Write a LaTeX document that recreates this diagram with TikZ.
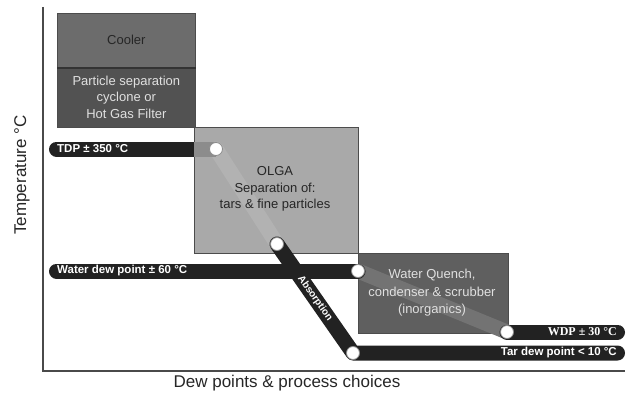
\documentclass[tikz,border=0pt]{standalone}
\usepackage{fontspec}
\setmainfont{Liberation Sans}
\newfontfamily\serifbold{Liberation Serif}
\definecolor{barc}{HTML}{222222}
\definecolor{coolc}{HTML}{6C6C6C}
\definecolor{partc}{HTML}{525252}
\definecolor{olgac}{HTML}{A9A9A9}
\definecolor{quenc}{HTML}{5F5F5F}
\definecolor{axc}{HTML}{4A4A4A}
\begin{document}
\begin{tikzpicture}[x=1pt,y=-1pt,
  box/.style={draw=black!70, line width=0.7pt, inner sep=0pt, anchor=north west, align=center,
    font=\fontsize{13}{16.5}\selectfont},
  boxtext/.style={align=center, inner sep=0pt, font=\fontsize{13}{16.5}\selectfont},
  bar/.style={line width=15pt, draw=barc, line cap=round, line join=round},
  dot/.style={circle, fill=white, draw=black!45, line width=0.8pt, minimum size=13pt, inner sep=0pt},
  barlabel/.style={text=white, font=\fontsize{11.5}{13}\selectfont\bfseries, inner sep=0pt},
  axlabel/.style={text=black!85, font=\fontsize{17}{20}\selectfont, inner sep=0pt}]
\useasboundingbox (0,0) rectangle (631,396);

% axes
\coordinate (otop) at (43,7);
\coordinate (orig) at (43,371);
\coordinate (xend) at (625,371);
\draw[axc, line width=2pt] (otop) -- (orig) -- (xend);

% boxes
\node[box, fill=coolc, text=black!85, minimum width=138pt, minimum height=54pt] (cooler) at (57,13) {Cooler};
\node[box, fill=partc, text=black!12, minimum width=138pt, minimum height=60pt] (part) at (57,67)
  {Particle separation\\cyclone or\\Hot Gas Filter};
\draw[black!80, line width=2pt] (cooler.south west) -- (cooler.south east);
\node[box, fill=olgac, minimum width=164pt, minimum height=126pt] (olga) at (194,127) {};
\node[box, fill=quenc, minimum width=150pt, minimum height=80pt] (quench) at (358,253) {};

% junction points
\coordinate (p1) at (216,149);
\coordinate (p2) at (277,244);
\coordinate (p3) at (353,353);
\coordinate (p4) at (358,271);
\coordinate (p5) at (507,332);
\coordinate (tdpL) at (56.5,149);
\coordinate (wdpL) at (56.5,271);
\coordinate (wdpR) at (617.5,332);
\coordinate (tarR) at (617.5,353);

% TDP bar
\draw[bar, draw=black!30] (p1) -- (p2);
\draw[bar] (tdpL) -- (olga.west |- p1);
\draw[line width=15pt, draw=black!45] (olga.west |- p1) -- (p1);

% water dew point bar
\draw[line width=15pt, draw=black!55] (p4) -- (p5);
\draw[bar] (wdpL) -- (p4);
\draw[bar] (p5) -- (wdpR);

% absorption and tar dew point
\draw[bar] (p2) -- node[midway, sloped, text=white, font=\fontsize{10}{12}\selectfont\bfseries, inner sep=0pt] (abs) {Absorption} (p3) -- (tarR);

% box texts over the bands
\node[boxtext, text=black!85] (olgatext) at (275,189)
  {OLGA\\Separation of:\\tars \& fine particles};
\node[boxtext, text=black!12, font=\fontsize{13}{17.5}\selectfont] (quenchtext) at (432,293)
  {Water Quench,\\condenser \& scrubber\\(inorganics)};

% dots
\node[dot] (d1) at (p1) {};
\node[dot] (d2) at (p2) {};
\node[dot] (d3) at (p3) {};
\node[dot] (d4) at (p4) {};
\node[dot] (d5) at (p5) {};

% bar labels
\node[barlabel, anchor=west] (tdp) at (57,149) {TDP ± 350 °C};
\node[barlabel, anchor=west] (wdp) at (57,271) {Water dew point ± 60 °C};
\node[barlabel, anchor=east, font=\fontsize{12}{13}\serifbold\bfseries] (wdp2) at (617,332) {WDP ± 30 °C};
\node[barlabel, anchor=east] (tar) at (617,353) {Tar dew point < 10 °C};

% axis labels
\node[axlabel, rotate=90] (ylab) at (22,175) {Temperature °C};
\node[axlabel] (xlab) at (287,383) {Dew points \& process choices};
\end{tikzpicture}
\end{document}
